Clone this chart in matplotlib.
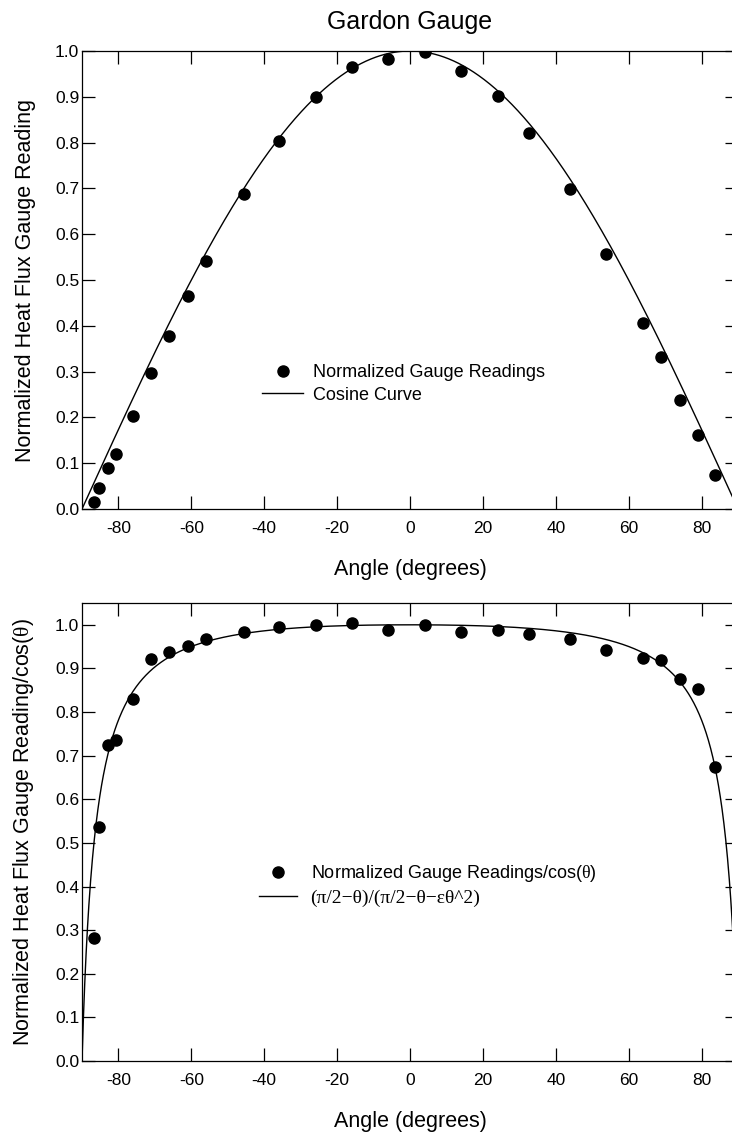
import numpy as np
import matplotlib
matplotlib.use("Agg")
import matplotlib.pyplot as plt

plt.rcParams['font.family'] = ['Liberation Sans', 'DejaVu Sans']
plt.rcParams['mathtext.fontset'] = 'custom'
plt.rcParams['mathtext.rm'] = 'Liberation Serif'

# measured angles (degrees)
angles = [-86.7, -85.2, -82.9, -80.8, -76.0, -71.2, -66.2, -60.8, -55.9, -45.6,
          -36.0, -25.9, -16.0, -6.1, 4.0, 13.9, 24.2, 32.7, 43.9, 53.7,
          63.9, 68.9, 74.2, 78.9, 83.7]
# normalized gauge readings
readings = [0.016, 0.045, 0.089, 0.119, 0.202, 0.297, 0.377, 0.464, 0.541, 0.687,
            0.804, 0.899, 0.966, 0.983, 0.998, 0.956, 0.902, 0.822, 0.698, 0.557,
            0.406, 0.331, 0.238, 0.162, 0.074]
# readings / cos(theta)
readings_cos = [0.281, 0.537, 0.725, 0.736, 0.831, 0.921, 0.937, 0.952, 0.967, 0.984,
                0.995, 0.999, 1.005, 0.989, 0.999, 0.984, 0.989, 0.979, 0.967, 0.942,
                0.925, 0.920, 0.875, 0.853, 0.674]

eps = -0.025  # fit parameter of the correction curve
curve_deg = np.linspace(-90, 90, 1441)

xticks = [-80, -60, -40, -20, 0, 20, 40, 60, 80]

th = np.radians(curve_deg)
cos_curve = np.cos(th)
a = np.pi / 2 - np.abs(th)
corr_curve = a / (a - eps * th ** 2)

W, H = 732, 1132
fig = plt.figure(figsize=(W / 100, H / 100), dpi=100)

ax1 = fig.add_axes([82 / W, 1 - 509 / H, 656 / W, 458 / H])
ax2 = fig.add_axes([82 / W, 1 - 1061 / H, 656 / W, 458 / H])


def style(ax, ymax):
    ax.set_xlim(-90, 90)
    ax.set_ylim(0, ymax)
    ax.set_xticks(xticks)
    ax.set_xticklabels([str(t) for t in xticks])
    ax.set_yticks(np.arange(0, 1.01, 0.1))
    ax.set_yticklabels(['%.1f' % v for v in np.arange(0, 1.01, 0.1)])
    ax.tick_params(direction='in', length=9.5, width=0.9, top=True, right=True,
                   labelsize=12.5)
    ax.tick_params(axis='x', pad=8.5)
    ax.tick_params(axis='y', pad=2)
    for s in ax.spines.values():
        s.set_linewidth(0.9)
    ax.set_xlabel('Angle (degrees)', fontsize=15.5, labelpad=17)


ax1.plot(angles, readings, 'o', color='black', ms=8, label='Normalized Gauge Readings')
ax1.plot(curve_deg, cos_curve, '-', color='black', lw=1.0, label='Cosine Curve')
style(ax1, 1.0)
ax1.set_ylabel('Normalized Heat Flux Gauge Reading', fontsize=15.5, labelpad=14)
ax1.set_title('Gardon Gauge', fontsize=18, pad=16)
leg1 = ax1.legend(loc='upper left', bbox_to_anchor=(0.274, 0.316), frameon=False,
                  fontsize=13, handlelength=2.3, handletextpad=0.55,
                  labelspacing=0.3, borderpad=0, borderaxespad=0)

ax2.plot(angles, readings_cos, 'o', color='black', ms=8,
         label=r'Normalized Gauge Readings/cos($\mathrm{\theta}$)')
ax2.plot(curve_deg, corr_curve, '-', color='black', lw=1.0,
         label='(\u03c0/2\u2212\u03b8)/(\u03c0/2\u2212\u03b8\u2212\u03b5\u03b8^2)')
style(ax2, 1.05)
ax2.set_ylabel(r'Normalized Heat Flux Gauge Reading/cos($\mathrm{\theta}$)',
               fontsize=15.5, labelpad=14)
leg2 = ax2.legend(loc='upper left', bbox_to_anchor=(0.27, 0.432), frameon=False,
                  fontsize=13, handlelength=2.1, handletextpad=0.75,
                  labelspacing=0.3, borderpad=0, borderaxespad=0)
leg2.get_texts()[1].set_fontfamily('Liberation Serif')
leg2.get_texts()[1].set_fontsize(14)

fig.savefig('out.png', dpi=100)
